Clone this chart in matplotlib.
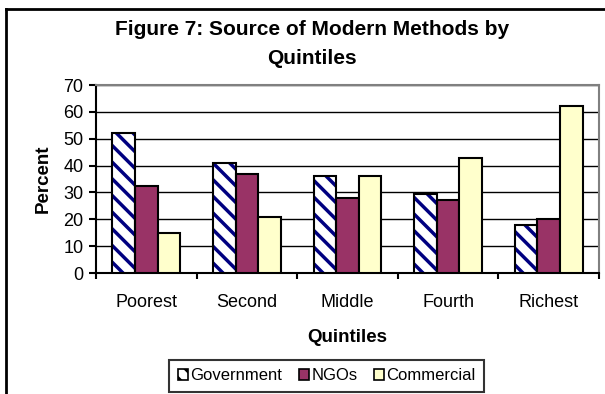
import matplotlib
matplotlib.use("Agg")
import matplotlib.pyplot as plt
from matplotlib.patches import Patch
from matplotlib.lines import Line2D
import numpy as np

plt.rcParams['font.family'] = ['Liberation Sans', 'DejaVu Sans']
plt.rcParams['hatch.linewidth'] = 2.5

quintiles = ["Poorest", "Second", "Middle", "Fourth", "Richest"]
government = [52, 41, 36, 29.5, 18]
ngos = [32.5, 37, 28, 27.3, 20]
commercial = [15, 21, 36, 43, 62]

navy = '#000080'
maroon = '#993366'
cream = '#FFFFCC'

fig = plt.figure(figsize=(6.05, 3.94), dpi=100)
ax = fig.add_axes([96 / 605, 1 - 273 / 394, (599 - 96) / 605, (273 - 85) / 394])

x = np.arange(len(quintiles))
w = 0.224

# government: hatched stripes, then black outline on top
ax.bar(x - w, government, w, color='white', edgecolor=navy, hatch='\\\\', linewidth=0, zorder=3)
ax.bar(x - w, government, w, color='none', edgecolor='black', linewidth=1.5, zorder=4)
ax.bar(x, ngos, w, color=maroon, edgecolor='black', linewidth=1.5, zorder=3)
ax.bar(x + w, commercial, w, color=cream, edgecolor='black', linewidth=1.5, zorder=3)

ax.set_xlim(-0.5, 4.5)
ax.set_ylim(0, 70)
ax.set_yticks(range(0, 71, 10))
ax.yaxis.grid(True, color='black', linewidth=1)
ax.set_axisbelow(True)

ax.set_xticks(x)
ax.set_xticklabels(quintiles, fontsize=13)
ax.set_xticks(np.arange(-0.5, 4.6, 1), minor=True)
ax.tick_params(axis='x', which='major', length=0, pad=15)
ax.tick_params(axis='x', which='minor', length=4.5, width=1.5, direction='out')
ax.tick_params(axis='y', length=5, width=1.5, labelsize=13, pad=4)

for s in ['top', 'right']:
    ax.spines[s].set_color('#808080')
    ax.spines[s].set_linewidth(1.5)
for s in ['left', 'bottom']:
    ax.spines[s].set_color('black')
    ax.spines[s].set_linewidth(1.5)

ax.set_ylabel('Percent', fontsize=13.5, fontweight='bold')
ax.yaxis.set_label_coords(-0.0875, 0.5)
ax.set_xlabel('Quintiles', fontsize=13.5, fontweight='bold')
ax.xaxis.set_label_coords(0.5, -0.3)

fig.text(0.516, 1 - 29.5 / 394, 'Figure 7: Source of Modern Methods by',
         ha='center', va='center', fontsize=15, fontweight='bold')
fig.text(0.516, 1 - 58 / 394, 'Quintiles',
         ha='center', va='center', fontsize=15, fontweight='bold')

handles = [Patch(facecolor='white', edgecolor='black', hatch='\\\\', linewidth=1.2),
           Patch(facecolor=maroon, edgecolor='black', linewidth=1.2),
           Patch(facecolor=cream, edgecolor='black', linewidth=1.2)]
leg = fig.legend(handles, ['Government', 'NGOs', 'Commercial'], loc='center',
                 bbox_to_anchor=(0.540, 0.046), ncol=3, fontsize=12, frameon=True,
                 fancybox=False, handlelength=0.6, handleheight=0.6, handletextpad=0.15,
                 columnspacing=1.0, borderpad=0.5, borderaxespad=0)
leg.get_frame().set_edgecolor('black')
leg.get_frame().set_linewidth(1.5)

# outer chart frame (left and top edges visible)
fig.add_artist(Line2D([6 / 605, 6 / 605], [0, 1 - 9 / 394], transform=fig.transFigure, color='black', linewidth=2))
fig.add_artist(Line2D([6 / 605, 1], [1 - 9 / 394, 1 - 9 / 394], transform=fig.transFigure, color='black', linewidth=2))

fig.savefig('out.png', dpi=100, facecolor='white')
